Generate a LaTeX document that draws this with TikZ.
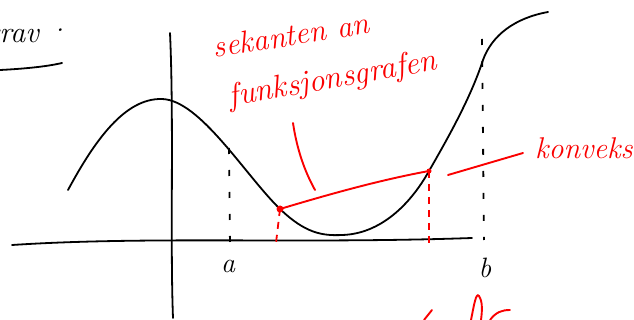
\documentclass[tikz,border=0pt]{standalone}
\usepackage{tikz}
\usetikzlibrary{positioning,calc}
\definecolor{penred}{RGB}{250,0,0}
\tikzset{
  akse/.style={draw=black,line width=1.8pt,line cap=round},
  graf/.style={draw=black,line width=1.8pt,line cap=round},
  hjlinje/.style={draw=black,line width=1.8pt,dash pattern=on 6pt off 16pt},
  hjrod/.style={draw=penred,line width=1.8pt,dash pattern=on 7pt off 6pt},
  sek/.style={draw=penred,line width=1.9pt,line cap=round},
  pkt/.style={circle,fill=penred,inner sep=0,minimum size=7pt},
  hand/.style={font=\fontsize{28}{30}\selectfont\itshape,inner sep=0},
  handr/.style={hand,text=penred},
}

\begin{document}
\begin{tikzpicture}[x=1pt,y=-1pt]
  \useasboundingbox (0,0) rectangle (634,320);

  % overskrift oppe til venstre (kuttet)
  \node[hand,font=\fontsize{30}{32}\selectfont\itshape,anchor=base east] (krav) at (39,43) {krav};
  \node[hand,anchor=base] (prikk) at (60,32) {.};
  \coordinate (strek0) at (0,70);
  \coordinate (strek1) at (62,63);
  \draw[akse] (strek0) .. controls (20,69) and (45,67) .. (strek1);

  % akser
  \coordinate (x0) at (12,245);
  \coordinate (x1) at (472,238);
  \coordinate (y0) at (170,33);
  \coordinate (y1) at (173,318);
  \draw[akse] (x0) .. controls (150,236) and (300,244) .. (x1);
  \draw[akse] (y0) .. controls (174,120) and (170,240) .. (y1);

  % grafen
  \coordinate (g0) at (68,190);
  \coordinate (topp) at (162,99);
  \coordinate (gs) at (280,209);
  \coordinate (bunn) at (342,235);
  \coordinate (gk) at (429,171);
  \coordinate (gb) at (483,60);
  \coordinate (g9) at (548,12);
  \draw[graf] (g0) .. controls (95,140) and (125,98) .. (topp)
                   .. controls (200,100) and (245,175) .. (gs)
                   .. controls (305,233) and (322,236) .. (bunn)
                   .. controls (380,234) and (410,205) .. (gk)
                   .. controls (445,143) and (470,100) .. (gb)
                   .. controls (492,35) and (515,18) .. (g9);

  % a og b
  \coordinate (ga) at (229,148);
  \coordinate (ax) at (230,247);
  \coordinate (btop) at (482,39);
  \coordinate (bx) at (484,240);
  \draw[hjlinje] (ga) -- (ax);
  \draw[hjlinje] (btop) -- (bx);
  \node[hand] (a) at (228,266) {a};
  \node[hand] (b) at (485,268) {b};

  % sekanten
  \coordinate (sx) at (276,243);
  \coordinate (kx) at (429,244);
  \draw[hjrod] (gs) -- (sx);
  \draw[hjrod] (gk) -- (kx);
  \draw[sek] (gs) .. controls (330,194) and (380,180) .. (gk);
  \node[pkt] (ps) at (gs) {};
  \node[pkt,minimum size=5pt] (pk) at (gk) {};

  % tekster i rødt
  \node[handr,font=\fontsize{31}{33}\selectfont\itshape,rotate=9] (sekanten) at (291,35) {sekanten an};
  \node[handr,font=\fontsize{32}{34}\selectfont\itshape,rotate=10] (grafen) at (333,80) {funksjonsgrafen};
  \coordinate (pil1a) at (293,123);
  \coordinate (pil1b) at (315,190);
  \draw[sek] (pil1a) .. controls (297,150) and (305,172) .. (pil1b);

  \node[handr,font=\fontsize{30}{32}\selectfont\itshape,anchor=west] (konveks) at (535,148) {konveks};
  \coordinate (pil2a) at (448,175);
  \draw[sek] (pil2a) -- ($(konveks.west)+(-12,5)$);

  % rest av tekst nederst (kuttet)
  \draw[sek] (424,320) -- (432,310);
  \draw[sek] (471,320) .. controls (474,305) and (476,292) .. (479,296)
                       .. controls (483,302) and (482,312) .. (481,320);
  \draw[sek] (490,320) .. controls (496,312) and (502,310) .. (510,310);
\end{tikzpicture}
\end{document}
